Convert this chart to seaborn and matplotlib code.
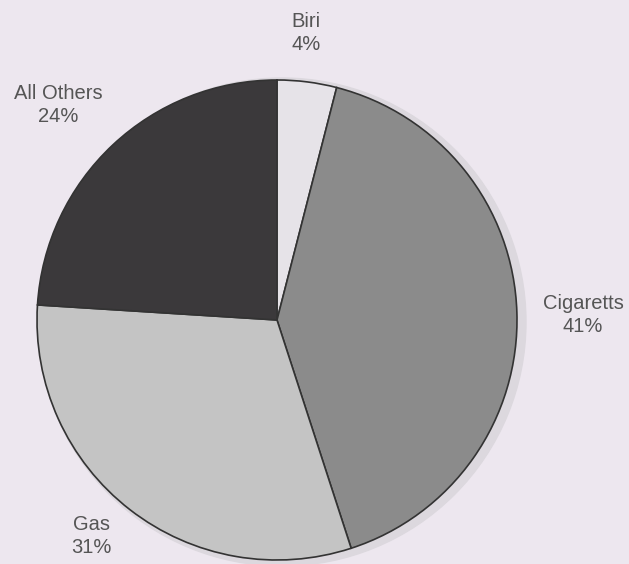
import matplotlib
matplotlib.use("Agg")
import matplotlib.pyplot as plt
import seaborn as sns
import pandas as pd

categories = ["Biri", "Cigaretts", "Gas", "All Others"]
shares = [4, 41, 31, 24]
label_text = ["Biri\n4%", "Cigaretts\n41%", "Gas\n31%", "All Others\n24%"]

df = pd.DataFrame({"category": categories, "share": shares, "label": label_text})

sns.set_theme(style="white")
plt.rcParams["font.family"] = ["Liberation Sans", "DejaVu Sans"]

bg = "#ede7ef"
colors = ["#e6e3e8", "#8b8b8b", "#c4c4c4", "#3b393b"]

W, H = 629, 564
fig = plt.figure(figsize=(W / 100, H / 100), dpi=100, facecolor=bg)
ax = fig.add_axes([0, 0, 1, 1])
ax.set_facecolor(bg)

cx, cy, r = 277, H - 320, 240

# faint shadow ring behind pie
shadow = plt.Circle((cx + 5, cy - 2), r + 4, color="#dcd8de", zorder=0)
ax.add_patch(shadow)

ax.pie(df["share"], colors=colors, startangle=90, counterclock=False,
       center=(cx, cy), radius=r,
       wedgeprops=dict(edgecolor="#333333", linewidth=1.2))

label_pos = {
    "Biri": (306, H - 33),
    "Cigaretts": (583, H - 315),
    "Gas": (91, H - 536),
    "All Others": (58, H - 105),
}
for cat, lab in zip(df["category"], df["label"]):
    x, y = label_pos[cat]
    ax.text(x, y, lab, ha="center", va="center", multialignment="center",
            fontsize=14.5, color="#555555", linespacing=1.3)

ax.set_xlim(0, W)
ax.set_ylim(0, H)
ax.set_aspect("equal")
ax.axis("off")

fig.savefig("out.png", dpi=100, facecolor=bg)
